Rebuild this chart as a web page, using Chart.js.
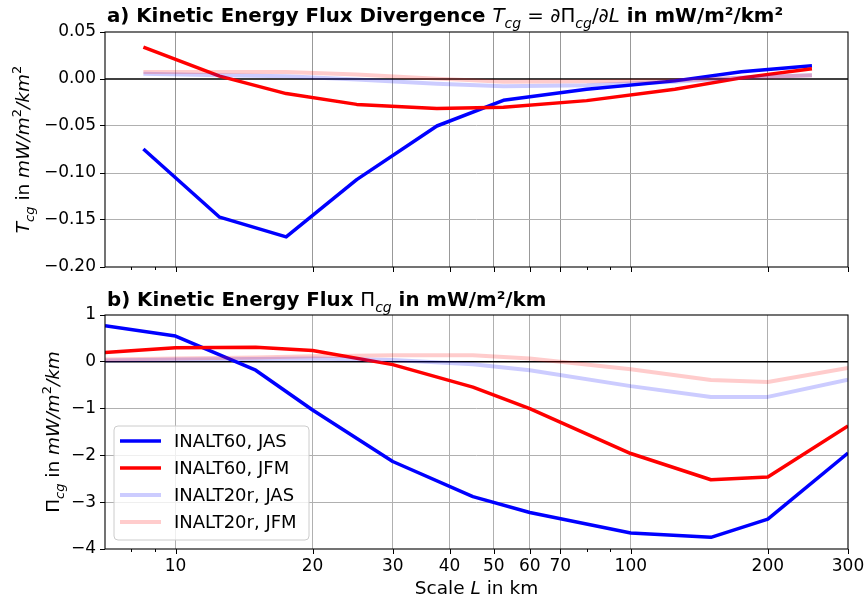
<!DOCTYPE html>
<html>
<head>
<meta charset="utf-8">
<script src="https://cdn.jsdelivr.net/npm/chart.js@4.4.1/dist/chart.umd.min.js"></script>
<style>
  html,body{margin:0;padding:0;background:#fff;}
  #wrap{position:relative;width:866px;height:599px;overflow:hidden;}
  .pane{position:absolute;left:0;width:866px;}
</style>
</head>
<body>
<div id="wrap">
  <div class="pane" style="top:0;height:280px;"><canvas id="cTop" width="866" height="280"></canvas></div>
  <div class="pane" style="top:280px;height:319px;"><canvas id="cBot" width="866" height="319"></canvas></div>
</div>
<script>
// ---------------- data ----------------
const scaleKm = [7, 10, 15, 20, 30, 45, 60, 100, 150, 200, 300];
const midKm   = [8.5, 12.5, 17.5, 25, 37.5, 52.5, 80, 125, 175, 250];

const seriesNames = ['INALT60, JAS', 'INALT60, JFM', 'INALT20r, JAS', 'INALT20r, JFM'];

// Kinetic energy flux divergence (top panel), mW/m2/km2
const div60JAS = [-0.0745, -0.147, -0.168, -0.107, -0.050, -0.0227, -0.011, -0.002, 0.0078, 0.0141];
const div60JFM = [0.034, 0.003, -0.0155, -0.027, -0.0315, -0.030, -0.023, -0.011, 0.0012, 0.011];
const div20JAS = [0.0057, 0.004, 0.003, -0.0006, -0.005, -0.0078, -0.0067, -0.003, 0.0015, 0.004];
const div20JFM = [0.0074, 0.0074, 0.0074, 0.0047, 0.0004, -0.003, -0.0025, -0.0014, 0.001, 0.004];

// Kinetic energy flux (bottom panel), mW/m2/km
const flux60JAS = [0.77, 0.55, -0.18, -1.03, -2.13, -2.88, -3.22, -3.66, -3.75, -3.36, -1.95];
const flux60JFM = [0.20, 0.30, 0.31, 0.24, -0.06, -0.54, -1.00, -1.96, -2.52, -2.46, -1.37];
const flux20JAS = [0.03, 0.05, 0.06, 0.07, 0.04, -0.05, -0.18, -0.52, -0.75, -0.75, -0.38];
const flux20JFM = [0.05, 0.07, 0.09, 0.12, 0.14, 0.14, 0.07, -0.16, -0.39, -0.43, -0.13];

// axis ticks
const xTickVals  = [8, 9, 10, 20, 30, 40, 50, 60, 70, 80, 90, 100, 200, 300];
const xLabelVals = [10, 20, 30, 40, 50, 60, 70, 100, 200, 300];
const xGridVals  = [10, 20, 30, 40, 50, 60, 70, 100, 200];
const topYRange  = [-0.20, 0.05];
const topYStep   = 0.05;
const botYRange  = [-4, 1];
const botYStep   = 1;

// ---------------- styles ----------------
const FONT = "'DejaVu Sans', sans-serif";
const TICK_SIZE = 17, LABEL_SIZE = 18.5, TITLE_SIZE = 19.8, LEGEND_SIZE = 18;
const colors = ['#0000ff', '#ff0000', 'rgba(0,0,255,0.2)', 'rgba(255,0,0,0.2)'];
const widths = [3.5, 3.5, 4, 4];
const drawOrder = [3, 2, 1, 0];

function pairs(xs, ys) { return xs.map((x, i) => ({x: x, y: ys[i]})); }
function fmtMinus(s) { return s.replace('-', '\u2212'); }

function makeDatasets(xs, arrs) {
  return arrs.map((a, i) => ({
    label: seriesNames[i],
    data: pairs(xs, a),
    borderColor: colors[i],
    backgroundColor: colors[i],
    borderWidth: widths[i],
    pointRadius: 0,
    pointHoverRadius: 0,
    tension: 0,
    fill: false,
    order: drawOrder[i],
    borderJoinStyle: 'round',
    borderCapStyle: 'butt'
  }));
}

// rich text: segments {t, b:bold, i:italic, sub, sup}
function segFont(s, size) {
  const sz = (s.sub || s.sup) ? Math.round(size * 0.7) : size;
  return (s.i ? 'italic ' : '') + (s.b ? 'bold ' : '') + sz + 'px ' + FONT;
}
function richWidth(ctx, segs, size) {
  let w = 0;
  segs.forEach(s => { ctx.font = segFont(s, size); w += ctx.measureText(s.t).width; });
  return w;
}
function drawRich(ctx, segs, x, y, size, align) {
  ctx.save();
  ctx.textBaseline = 'alphabetic';
  ctx.textAlign = 'left';
  ctx.fillStyle = '#000';
  let cx = x;
  if (align === 'center') cx = x - richWidth(ctx, segs, size) / 2;
  segs.forEach(s => {
    ctx.font = segFont(s, size);
    let dy = 0;
    if (s.sub) dy = size * 0.28;
    if (s.sup) dy = -size * 0.42;
    ctx.fillText(s.t, cx, y + dy);
    cx += ctx.measureText(s.t).width;
  });
  ctx.restore();
}

function xScale(height, showLabels, gridColor) {
  return {
    type: 'logarithmic', min: 7, max: 300,
    afterBuildTicks: s => { s.ticks = xTickVals.map(v => ({value: v})); },
    afterFit: s => { s.height = height; s.paddingLeft = 0; s.paddingRight = 0; },
    border: {display: false},
    grid: {
      drawTicks: false,
      lineWidth: 1,
      color: c => (c.tick && xGridVals.includes(c.tick.value)) ? gridColor : 'rgba(0,0,0,0)'
    },
    ticks: {
      display: showLabels, autoSkip: false, maxRotation: 0, minRotation: 0, padding: 7,
      color: '#000', font: {family: FONT, size: TICK_SIZE},
      callback: v => xLabelVals.includes(v) ? String(v) : ''
    }
  };
}
function yScale(range, step, digits) {
  return {
    type: 'linear', min: range[0], max: range[1],
    afterFit: s => { s.width = 105; s.paddingTop = 0; s.paddingBottom = 0; },
    border: {display: false},
    grid: {
      drawTicks: true, tickLength: 5, tickColor: '#000', lineWidth: 1,
      color: c => {
        const v = c.tick.value;
        if (Math.abs(v) < 1e-9 || v <= range[0] + 1e-9 || v >= range[1] - 1e-9) return 'rgba(0,0,0,0)';
        return '#b0b0b0';
      }
    },
    ticks: {
      stepSize: step, padding: 4, color: '#000', font: {family: FONT, size: TICK_SIZE},
      callback: v => fmtMinus(Number(v).toFixed(digits))
    }
  };
}

function decorPlugin(opts) {
  return {
    id: 'decor',
    beforeDatasetsDraw(chart) {
      const ctx = chart.ctx, a = chart.chartArea, y0 = chart.scales.y.getPixelForValue(0);
      ctx.save();
      ctx.strokeStyle = '#000'; ctx.lineWidth = 1.5;
      ctx.beginPath(); ctx.moveTo(a.left, y0); ctx.lineTo(a.right, y0); ctx.stroke();
      ctx.restore();
    },
    afterDatasetsDraw(chart) {
      const ctx = chart.ctx, a = chart.chartArea, xs = chart.scales.x;
      ctx.save();
      ctx.strokeStyle = '#000'; ctx.lineWidth = 1.1;
      ctx.strokeRect(a.left, a.top, a.right - a.left, a.bottom - a.top);
      ctx.lineWidth = 1;
      xTickVals.forEach(v => {
        const px = Math.round(xs.getPixelForValue(v)) + 0.5;
        const len = xLabelVals.includes(v) ? 5 : 3;
        ctx.beginPath(); ctx.moveTo(px, a.bottom); ctx.lineTo(px, a.bottom + len); ctx.stroke();
      });
      ctx.restore();
    },
    afterDraw(chart) {
      const ctx = chart.ctx, a = chart.chartArea;
      drawRich(ctx, opts.title, a.left + 2, opts.titleY, TITLE_SIZE, 'left');
      ctx.save();
      ctx.translate(opts.yTitleX, (a.top + a.bottom) / 2);
      ctx.rotate(-Math.PI / 2);
      drawRich(ctx, opts.yTitle, 0, 0, LABEL_SIZE, 'center');
      ctx.restore();
      if (opts.xTitle) drawRich(ctx, opts.xTitle, (a.left + a.right) / 2, opts.xTitleY, LABEL_SIZE, 'center');
      if (opts.legend) {
        const L = opts.legend;
        ctx.save();
        ctx.beginPath();
        ctx.roundRect(L.x, L.y, L.w, L.h, 4);
        ctx.fillStyle = 'rgba(255,255,255,0.8)'; ctx.fill();
        ctx.strokeStyle = '#cccccc'; ctx.lineWidth = 1; ctx.stroke();
        chart.data.datasets.forEach((ds, i) => {
          const cy = L.y + 15 + i * 27;
          ctx.strokeStyle = ds.borderColor; ctx.lineWidth = ds.borderWidth;
          ctx.beginPath(); ctx.moveTo(L.x + 6, cy); ctx.lineTo(L.x + 47, cy); ctx.stroke();
          ctx.fillStyle = '#000'; ctx.font = LEGEND_SIZE + 'px ' + FONT;
          ctx.textBaseline = 'middle'; ctx.textAlign = 'left';
          ctx.fillText(ds.label, L.x + 60, cy + 1);
        });
        ctx.restore();
      }
    }
  };
}

const common = {
  responsive: false, animation: false, devicePixelRatio: 1,
  plugins: {legend: {display: false}, tooltip: {enabled: false}, title: {display: false}},
  events: []
};

new Chart(document.getElementById('cTop'), {
  type: 'line',
  data: {datasets: makeDatasets(midKm, [div60JAS, div60JFM, div20JAS, div20JFM])},
  options: Object.assign({}, common, {
    layout: {padding: {top: 32, right: 18, left: 0, bottom: 0}},
    scales: {
      x: xScale(13, false, '#999999'),
      y: yScale(topYRange, topYStep, 2)
    }
  }),
  plugins: [decorPlugin({
    title: [
      {t: 'a) Kinetic Energy Flux Divergence ', b: true},
      {t: 'T', i: true}, {t: 'cg', i: true, sub: true},
      {t: ' = \u2202\u03A0'}, {t: 'cg', i: true, sub: true},
      {t: '/\u2202'}, {t: 'L', i: true},
      {t: ' in mW/m\u00B2/km\u00B2', b: true}
    ],
    titleY: 22,
    yTitle: [
      {t: 'T', i: true}, {t: 'cg', i: true, sub: true},
      {t: ' in '}, {t: 'mW/m', i: true}, {t: '2', sup: true}, {t: '/km', i: true}, {t: '2', sup: true}
    ],
    yTitleX: 29
  })]
});

new Chart(document.getElementById('cBot'), {
  type: 'line',
  data: {datasets: makeDatasets(scaleKm, [flux60JAS, flux60JFM, flux20JAS, flux20JFM])},
  options: Object.assign({}, common, {
    layout: {padding: {top: 35, right: 18, left: 0, bottom: 0}},
    scales: {
      x: xScale(50, true, '#b0b0b0'),
      y: yScale(botYRange, botYStep, 0)
    }
  }),
  plugins: [decorPlugin({
    title: [
      {t: 'b) Kinetic Energy Flux ', b: true},
      {t: '\u03A0'}, {t: 'cg', i: true, sub: true},
      {t: ' in mW/m\u00B2/km', b: true}
    ],
    titleY: 26,
    yTitle: [
      {t: '\u03A0'}, {t: 'cg', i: true, sub: true},
      {t: ' in '}, {t: 'mW/m', i: true}, {t: '2', sup: true}, {t: '/km', i: true}
    ],
    yTitleX: 59,
    xTitle: [{t: 'Scale '}, {t: 'L', i: true}, {t: ' in km'}],
    xTitleY: 314,
    legend: {x: 114, y: 146, w: 195, h: 114}
  })]
});
</script>
</body>
</html>
